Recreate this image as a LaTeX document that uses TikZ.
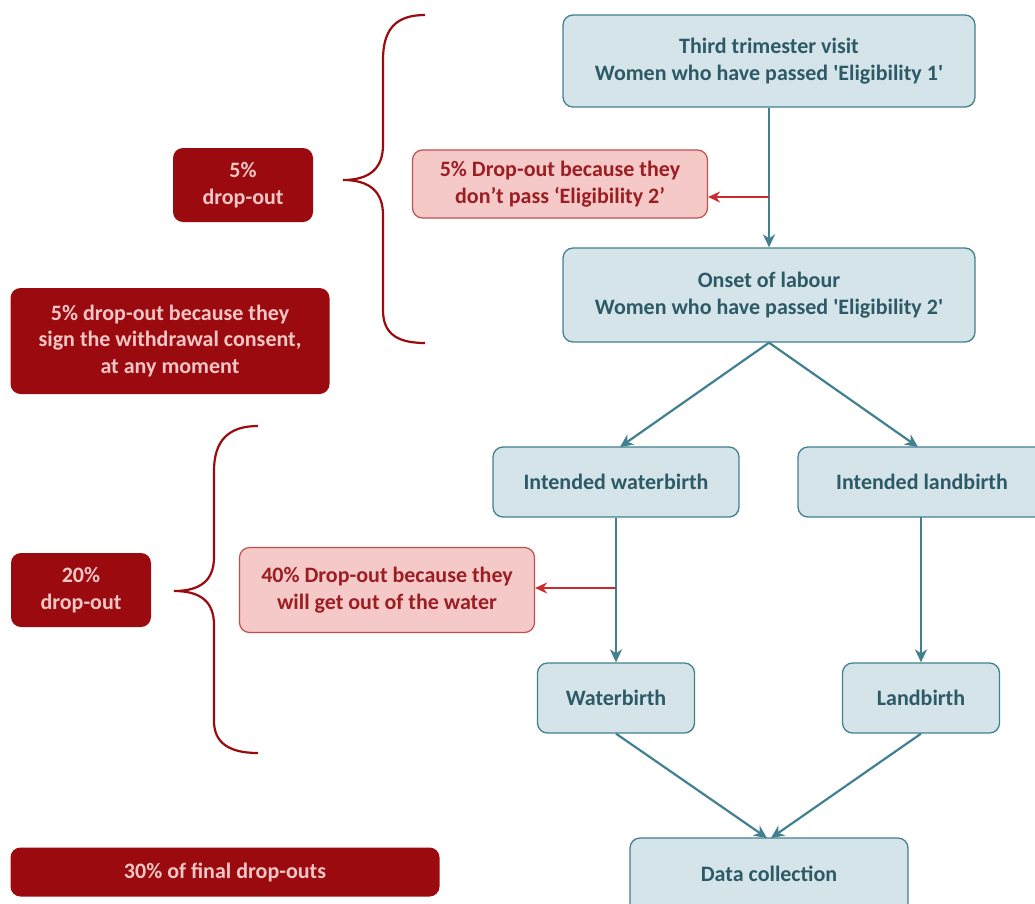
\documentclass[tikz,border=0pt]{standalone}
\usepackage{fontspec}
\setmainfont{Carlito}
\usetikzlibrary{arrows.meta}
\definecolor{flowfill}{HTML}{D5E4E9}
\definecolor{flowline}{HTML}{41808F}
\definecolor{flowtext}{HTML}{2C5A66}
\definecolor{darkred}{HTML}{9A0A0E}
\definecolor{darktext}{HTML}{F2C6C6}
\definecolor{pinkfill}{HTML}{F6C9C9}
\definecolor{pinkline}{HTML}{C0504D}
\definecolor{pinktext}{HTML}{9A1E22}
\definecolor{redarrow}{HTML}{CC2A2E}
\begin{document}
\begin{tikzpicture}[x=1pt,y=-1pt]
			\tikzstyle{flow}=[rectangle,rounded corners=10pt,draw=flowline,fill=flowfill,line width=1.3pt,text=flowtext,font=\bfseries\fontsize{22}{27}\selectfont,align=center,inner sep=0pt]
			\tikzstyle{drop}=[rectangle,rounded corners=10pt,draw=pinkline,fill=pinkfill,line width=1.2pt,text=pinktext,font=\bfseries\fontsize{22}{27}\selectfont,align=center,inner sep=0pt]
			\tikzstyle{total}=[rectangle,rounded corners=10pt,fill=darkred,text=darktext,font=\bfseries\fontsize{22}{26.5}\selectfont,align=center,inner sep=0pt]
			\tikzstyle{link}=[draw=flowline,line width=2.2pt,-{Stealth[length=13pt,width=12pt,inset=4pt]}]
			\tikzstyle{droplink}=[draw=redarrow,line width=1.8pt,-{Stealth[length=12pt,width=11pt,inset=4pt]}]
			\tikzstyle{brace}=[draw=darkred,line width=2.2pt]
			\useasboundingbox (0,0) rectangle (1035,903);
			% flow
			\node (a)[flow,minimum width=412pt,minimum height=92pt] at (769,61) {Third trimester visit\\Women who have passed \textquotesingle Eligibility 1\textquotesingle};
			\node (b)[flow,minimum width=412pt,minimum height=94pt] at (769,295) {Onset of labour\\Women who have passed \textquotesingle Eligibility 2\textquotesingle};
			\node (c)[flow,minimum width=246pt,minimum height=70pt] at (616,482) {Intended waterbirth};
			\node (d)[flow,minimum width=248pt,minimum height=70pt] at (922,482) {Intended landbirth};
			\node (e)[flow,minimum width=157pt,minimum height=70pt] at (616,698) {Waterbirth};
			\node (f)[flow,minimum width=157pt,minimum height=70pt] at (921,698) {Landbirth};
			\node (g)[flow,minimum width=278pt,minimum height=80pt] at (769,878) {\raisebox{9pt}{Data collection}};
			% drop-outs
			\node (p)[drop,minimum width=295pt,minimum height=68pt] at (560,184) {5\% Drop-out because they\\don’t pass ‘Eligibility 2’};
			\node (q)[drop,minimum width=295pt,minimum height=85pt] at (387,590) {40\% Drop-out because they\\will get out of the water};
			\node (r)[total,minimum width=140pt,minimum height=74pt] at (243,185) {5\%\\drop-out};
			\node (s)[total,minimum width=319pt,minimum height=106pt] at (170,341) {5\% drop-out because they\\sign the withdrawal consent,\\at any moment};
			\node (t)[total,minimum width=140pt,minimum height=74pt] at (81,590) {20\%\\drop-out};
			\node (u)[total,minimum width=429pt,minimum height=49pt] at (225,872) {30\% of final drop-outs};
			\coordinate (pa) at (769,197);
			\coordinate (qa) at (616,588);
			% connectors
			\draw[link] (a.south) -- (b.north);
			\draw[link] (b.south) -- (620,447);
			\draw[link] (b.south) -- (918,447);
			\draw[link] (c.south) -- (e.north);
			\draw[link] (921,517) -- (f.north);
			\draw[link] (e.south) -- (767,838);
			\draw[link] (f.south) -- (771,838);
			\draw[droplink] (pa) -- (p.east |- pa);
			\draw[droplink] (qa) -- (q.east |- qa);
			% braces
			\draw[brace] (425,15) .. controls (395,15) and (383,30) .. (383,60) -- (383,145) .. controls (383,168) and (370,180) .. (343,180) .. controls (370,180) and (383,192) .. (383,215) -- (383,310) .. controls (383,332) and (395,343) .. (425,343);
			\draw[brace] (258,426) .. controls (228,426) and (214,441) .. (214,471) -- (214,557) .. controls (214,580) and (201,591) .. (174,591) .. controls (201,591) and (214,602) .. (214,625) -- (214,721) .. controls (214,742) and (228,753) .. (258,753);
		\end{tikzpicture}
\end{document}
